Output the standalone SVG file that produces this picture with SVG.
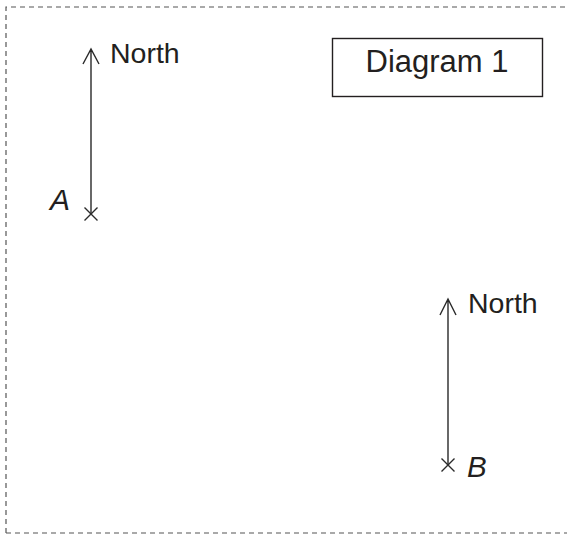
<svg xmlns="http://www.w3.org/2000/svg" width="567" height="535" viewBox="0 0 567 535">
<style>
.ln{stroke:#2a2a2a;stroke-width:1.4;fill:none}
.t{font-family:"Liberation Sans",Arial,sans-serif;fill:#231f20}
.it{font-style:italic}
</style>
<rect x="0" y="0" width="567" height="535" fill="#fff"/>
<g id="frame">
<path d="M6,533 V7 H567 M6,533 H567" fill="none" stroke="#555" stroke-width="1.2" stroke-dasharray="5,4"/>
</g>
<g id="title">
<rect x="332.5" y="38.5" width="210" height="58" fill="none" stroke="#231f20" stroke-width="1.4"/>
<text class="t" x="437" y="71.5" font-size="31" text-anchor="middle">Diagram 1</text>
</g>
<g id="connectors">
<path class="ln" d="M91,213 V49 M83,64 L91,49 L99,64"/>
<path class="ln" d="M448,465 V299 M440,315 L448,299 L456,315"/>
</g>
<g id="A">
<path class="ln" d="M84.5,207.5 L97.5,220.5 M97.5,207.5 L84.5,220.5"/>
<text class="t it" x="50" y="210" font-size="30">A</text>
<text class="t" x="110" y="63" font-size="28.5">North</text>
</g>
<g id="B">
<path class="ln" d="M441.5,458.5 L454.5,471.5 M454.5,458.5 L441.5,471.5"/>
<text class="t it" x="467" y="477" font-size="29.5">B</text>
<text class="t" x="468" y="313" font-size="28.5">North</text>
</g>
</svg>
